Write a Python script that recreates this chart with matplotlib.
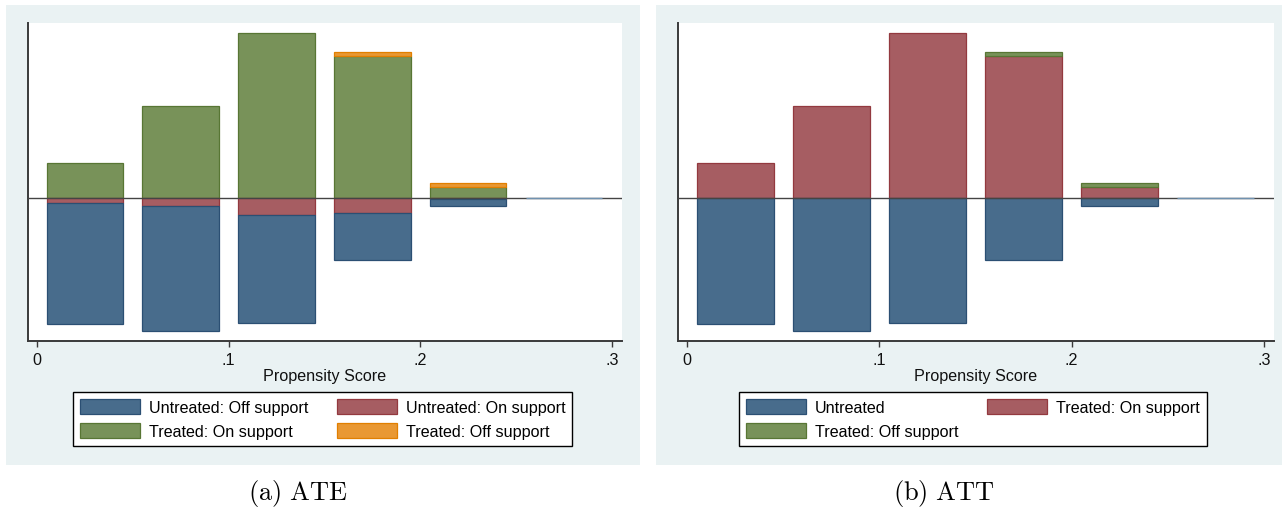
import numpy as np
import matplotlib
matplotlib.use("Agg")
import matplotlib.pyplot as plt
from matplotlib.patches import Rectangle, Patch

plt.rcParams["font.family"] = ["Liberation Sans", "DejaVu Sans"]
plt.rcParams["mathtext.fontset"] = "cm"

# Propensity-score bins (centres) and bar width
bin_centers = [0.025, 0.075, 0.125, 0.175, 0.225, 0.275]
bar_width = 0.04

# Densities by group (arbitrary density units)
treated_on = [3.5, 9.25, 16.5, 14.2, 1.1, 0.0]
treated_off = [0.0, 0.0, 0.0, 0.45, 0.4, 0.0]
untreated_on = [0.45, 0.83, 1.67, 1.53, 0.08, 0.0]
untreated_off = [12.15, 12.43, 10.8, 4.67, 0.75, 0.0]

xtick_vals = [0.0, 0.1, 0.2, 0.3]
xtick_labels = ["0", ".1", ".2", ".3"]

BLUE, BLUE_E = "#486c8c", "#2b4f73"
RED, RED_E = "#a65d62", "#93393f"
GREEN, GREEN_E = "#789259", "#587634"
ORANGE, ORANGE_E = "#e99833", "#e17f00"
EMPTY_E = "#7092b0"
PANEL_BG = "#eaf2f3"
AXIS_C = "#3a3a3a"
FS = 11.6

W, H = 1288, 510
fig = plt.figure(figsize=(W / 100, H / 100), dpi=100)


def fx(px):
    return px / W


def fy(py):
    return 1 - py / H


# Panel backgrounds
for x0, x1 in [(6, 640), (656, 1282)]:
    fig.patches.append(Rectangle((fx(x0), fy(466)), fx(x1 - x0), (466 - 6) / H,
                                 transform=fig.transFigure, facecolor=PANEL_BG,
                                 edgecolor="none", zorder=-5))


def draw_panel(ax, series, legend_handles, legend_labels, legend_box):
    x = np.array(bin_centers)
    for bottom, height, fc, ec in series:
        h = np.array(height)
        b = np.array(bottom)
        keep = h != 0
        ax.bar(x[keep], h[keep], width=bar_width, bottom=b[keep],
               facecolor=fc, edgecolor=ec, linewidth=0.9, zorder=2)
    # bins with no observations: zero-height outline on the baseline
    total = (np.array(treated_on) + np.array(treated_off)
             + np.array(untreated_on) + np.array(untreated_off))
    empty = total == 0
    ax.bar(x[empty], total[empty], width=bar_width, bottom=0,
           facecolor="none", edgecolor=EMPTY_E, linewidth=1.0, zorder=4)
    ax.axhline(0, color="#444444", linewidth=1.0, zorder=3)
    ax.set_xlim(-0.0047, 0.3053)
    ax.set_ylim(-14.3, 17.5)
    ax.set_yticks([])
    ax.set_xticks(xtick_vals)
    ax.set_xticklabels(xtick_labels)
    ax.tick_params(axis="x", direction="out", length=4, width=1.0, color=AXIS_C,
                   labelsize=FS, pad=4, labelcolor="#111111")
    for s in ["top", "right"]:
        ax.spines[s].set_visible(False)
    for s in ["left", "bottom"]:
        ax.spines[s].set_color(AXIS_C)
        ax.spines[s].set_linewidth(1.4)
    ax.set_xlabel("Propensity Score", fontsize=FS, labelpad=1, color="#111111")
    leg = ax.legend(legend_handles, legend_labels, ncol=2, loc="upper left",
                    bbox_to_anchor=legend_box, bbox_transform=fig.transFigure,
                    fontsize=FS, frameon=True, fancybox=False, edgecolor="black",
                    framealpha=1, handlelength=3.7, handleheight=1.05,
                    columnspacing=1.8, handletextpad=0.55, borderpad=0.45,
                    labelspacing=0.5, borderaxespad=0)
    leg.get_frame().set_linewidth(1.0)


def patch(fc, ec):
    return Patch(facecolor=fc, edgecolor=ec, linewidth=0.9)


zeros = [0.0] * 6
pos_top = [a for a in treated_on]
neg_red = [-a for a in untreated_on]
neg_blue = [-(a + b) for a, b in zip(untreated_on, untreated_off)]

# (a) ATE
ax1 = fig.add_axes([fx(28), fy(342), fx(622 - 28), (342 - 24) / H])
ax1.set_facecolor("white")
draw_panel(
    ax1,
    [
        (zeros, treated_on, GREEN, GREEN_E),
        (pos_top, treated_off, ORANGE, ORANGE_E),
        (zeros, neg_red, RED, RED_E),
        (neg_red, [-b for b in untreated_off], BLUE, BLUE_E),
    ],
    [patch(BLUE, BLUE_E), patch(GREEN, GREEN_E), patch(RED, RED_E), patch(ORANGE, ORANGE_E)],
    ["Untreated: Off support", "Treated: On support", "Untreated: On support", "Treated: Off support"],
    (fx(73), fy(393)),
)

# (b) ATT
ax2 = fig.add_axes([fx(678), fy(342), fx(1274 - 678), (342 - 24) / H])
ax2.set_facecolor("white")
draw_panel(
    ax2,
    [
        (zeros, treated_on, RED, RED_E),
        (pos_top, treated_off, GREEN, GREEN_E),
        (zeros, neg_blue, BLUE, BLUE_E),
    ],
    [patch(BLUE, BLUE_E), patch(GREEN, GREEN_E), patch(RED, RED_E)],
    ["Untreated", "Treated: Off support", "Treated: On support"],
    (fx(739), fy(393)),
)

fig.text(fx(298), fy(494), r"$\mathrm{(a)\ ATE}$", ha="center", va="center", fontsize=19)
fig.text(fx(944), fy(494), r"$\mathrm{(b)\ ATT}$", ha="center", va="center", fontsize=19)

fig.savefig("out.png", dpi=100, facecolor="white")
